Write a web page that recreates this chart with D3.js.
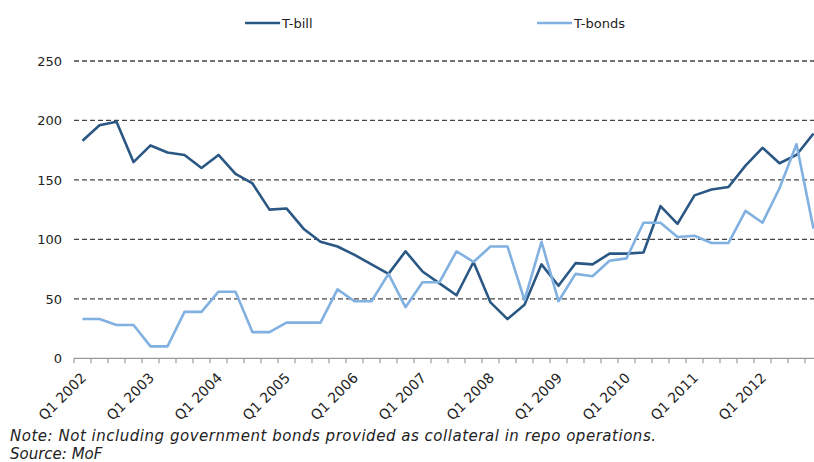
<!DOCTYPE html>
<html>
<head>
<meta charset="utf-8">
<script src="https://cdn.jsdelivr.net/npm/d3@7"></script>
<style>
  html, body { margin: 0; padding: 0; background: #fff; }
  svg { display: block; font-family: "DejaVu Sans", Verdana, sans-serif; }
</style>
</head>
<body>
<svg id="chart" width="814" height="462"></svg>
<script>
// Quarterly outstanding amounts, Q1 2002 – Q4 2012
const years = d3.range(2002, 2013);
const quarters = years.flatMap(yr => [1, 2, 3, 4].map(q => `Q${q} ${yr}`));

const tBill = [
  183, 196, 199, 165, 179, 173, 171, 160,
  171, 155, 147, 125, 126, 109, 98, 94,
  87, 79, 71, 90, 73, 63, 53, 81,
  47, 33, 45, 79, 61, 80, 79, 88,
  88, 89, 128, 113, 137, 142, 144, 162,
  177, 164, 171, 189
];
const tBonds = [
  33, 33, 28, 28, 10, 10, 39, 39,
  56, 56, 22, 22, 30, 30, 30, 58,
  48, 48, 71, 43, 64, 64, 90, 81,
  94, 94, 49, 98, 48, 71, 69, 82,
  84, 114, 114, 102, 103, 97, 97, 124,
  114, 143, 180, 109
];
const yTicks = [0, 50, 100, 150, 200, 250];
const seriesNames = ["T-bill", "T-bonds"];
const seriesColors = ["#2a5783", "#80b1e0"];

const svg = d3.select("#chart");
const plotLeft = 74, plotBottom = 358.3, plotTop = 61;

const x = d3.scaleBand().domain(quarters).range([plotLeft, plotLeft + quarters.length * 17]).paddingInner(0).paddingOuter(0);
const y = d3.scaleLinear().domain([0, 250]).range([plotBottom, plotTop]);
const cx = d => x(d) + x.bandwidth() / 2;

// dashed horizontal gridlines
svg.append("g")
  .selectAll("line")
  .data(yTicks.filter(v => v > 0))
  .join("line")
  .attr("x1", plotLeft).attr("x2", 814)
  .attr("y1", d => y(d)).attr("y2", d => y(d))
  .attr("stroke", "#444").attr("stroke-width", 1.3)
  .attr("stroke-dasharray", "5,3");

// y axis labels
const yAxis = d3.axisLeft(y).tickValues(yTicks).tickSize(0).tickPadding(12);
const gy = svg.append("g").attr("transform", `translate(${plotLeft},0)`).call(yAxis);
gy.select(".domain").remove();
gy.selectAll("text").attr("font-size", 13).attr("fill", "#222")
  .attr("font-family", "'DejaVu Sans', Verdana, sans-serif");

// x axis: baseline with tick marks at quarter boundaries
const boundaries = quarters.map(q => x(q));
const gx = svg.append("g");
gx.append("line")
  .attr("x1", plotLeft).attr("x2", 814)
  .attr("y1", plotBottom).attr("y2", plotBottom)
  .attr("stroke", "#9a9a9a").attr("stroke-width", 1.2);
gx.selectAll("line.tick")
  .data(boundaries)
  .join("line").attr("class", "tick")
  .attr("x1", d => d).attr("x2", d => d)
  .attr("y1", plotBottom).attr("y2", plotBottom + 5)
  .attr("stroke", "#9a9a9a").attr("stroke-width", 1.2);

// rotated labels on the first quarter of each year
gx.selectAll("text")
  .data(quarters.filter(q => q.startsWith("Q1")))
  .join("text")
  .attr("transform", d => `translate(${cx(d) + 1},${plotBottom + 17}) rotate(-45)`)
  .attr("text-anchor", "end")
  .attr("dy", "0.35em")
  .attr("font-size", 14)
  .attr("fill", "#222")
  .text(d => d);

// series lines
const line = d3.line().x((d, i) => cx(quarters[i])).y(d => y(d));
[tBill, tBonds].forEach((vals, i) => {
  svg.append("path")
    .datum(vals)
    .attr("fill", "none")
    .attr("stroke", seriesColors[i])
    .attr("stroke-width", 2.6)
    .attr("stroke-linejoin", "round")
    .attr("d", line);
});

// legend
const legendX = [245, 537];
const lg = svg.append("g");
seriesNames.forEach((name, i) => {
  lg.append("line")
    .attr("x1", legendX[i]).attr("x2", legendX[i] + 35)
    .attr("y1", 23).attr("y2", 23)
    .attr("stroke", seriesColors[i]).attr("stroke-width", 2.6);
  lg.append("text")
    .attr("x", legendX[i] + 37).attr("y", 23)
    .attr("dy", "0.35em")
    .attr("font-size", 13).attr("fill", "#222")
    .text(name);
});

// footnotes
svg.append("text")
  .attr("x", 10).attr("y", 441)
  .attr("font-size", 15).attr("font-style", "italic").attr("fill", "#222")
  .attr("textLength", 646).attr("lengthAdjust", "spacing")
  .text("Note: Not including government bonds provided as collateral in repo operations.");
svg.append("text")
  .attr("x", 10).attr("y", 459)
  .attr("font-size", 15).attr("font-style", "italic").attr("fill", "#222")
  .text("Source: MoF");
</script>
</body>
</html>
